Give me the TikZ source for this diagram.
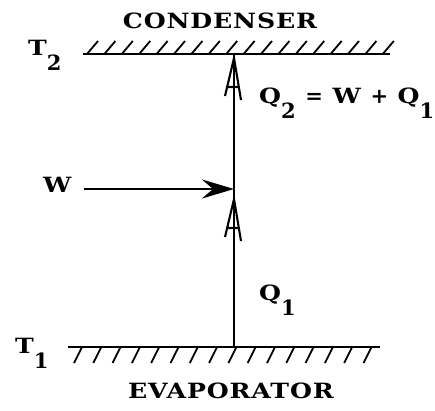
\documentclass[tikz,border=0pt]{standalone}
\usepackage{fontspec}
\setmainfont{DejaVu Serif}[FakeStretch=1.2, LetterSpace=4]
\newfontfamily\subfont{DejaVu Serif}
\usepackage{tikz}
\usetikzlibrary{arrows.meta, positioning}
\newcommand{\low}[1]{\raisebox{-15pt}{\subfont #1}}
\newcommand{\op}[1]{{\subfont #1}}
\tikzstyle{lbl} = [inner sep=0pt, font=\fontsize{21}{25}\selectfont\bfseries]
\tikzstyle{wall} = [line width=2.5pt]
\tikzstyle{hatch} = [line width=1.8pt]
\tikzstyle{flow} = [line width=2.5pt]
\tikzstyle{work} = [line width=2.6pt, -{Stealth[length=32pt,width=19pt,inset=11pt]}]
\tikzset{ahead/.pic={\draw[line width=2.1pt] (-9,38) -- (0,0) -- (7,42) (-6.9,29) -- (4.8,29);}}

\begin{document}
\begin{tikzpicture}[x=1pt, y=-1pt]
    \useasboundingbox (0,0) rectangle (435,410);
    % walls
    \coordinate (cl) at (83,54);
    \coordinate (cr) at (390,54);
    \coordinate (el) at (68,347);
    \coordinate (er) at (380,347);
    \coordinate (cond) at (234,54);
    \coordinate (evap) at (234,347);
    \coordinate (junc) at (234,189);
    \draw [wall] (cl) -- (cr);
    \draw [wall] (el) -- (er);
    \foreach \x in {0,...,17} \draw [hatch] (87+\x*17.4,54) -- ++(11,-13);
    \foreach \x in {0,...,15} \draw [hatch] (82+\x*19.3,347) -- ++(-8,16);
    % labels
    \node (condtxt) [lbl, anchor=base] at (220,28) {CONDENSER};
    \node (evaptxt) [lbl, anchor=base] at (231,398) {EVAPORATOR};
    \node (thot) [lbl, anchor=base west] at (28,55) {T\low{2}};
    \node (tcold) [lbl, anchor=base west] at (15,353) {T\low{1}};
    \node (w) [lbl, anchor=base west] at (43,192) {W};
    \node (qhot) [lbl, anchor=base west] at (259,103) {Q\low{2} \op{=} W \op{+} Q\low{1}};
    \node (qcold) [lbl, anchor=base west] at (259,300) {Q\low{1}};
    % heat flow and work
    \draw [flow] (evap) -- (cond);
    \pic at (234,58) {ahead};
    \pic at (234,199) {ahead};
    \draw [work] ([xshift=12pt]w.east |- junc) -- (junc);
\end{tikzpicture}
\end{document}
